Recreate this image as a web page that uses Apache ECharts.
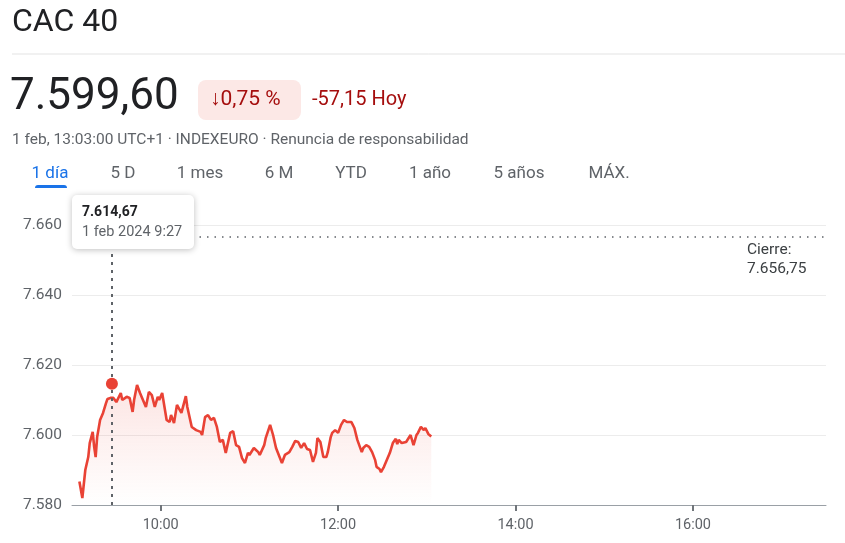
<!DOCTYPE html>
<html>
<head>
<meta charset="UTF-8">
<title>CAC 40</title>
<script src="https://cdn.jsdelivr.net/npm/echarts@6/dist/echarts.min.js"></script>
<style>
html, body { margin: 0; padding: 0; background: #fff; }
#main { width: 845px; height: 543px; }
</style>
</head>
<body>
<div id="main"></div>
<script>
// cotizaciones del 1 feb (hora local)
var times = ['09:05','09:07','09:09','09:11','09:12','09:14','09:15','09:16','09:17','09:19','09:21','09:23','09:24','09:26','09:28','09:30','09:33','09:34','09:37','09:39','09:41','09:42','09:44','09:46','09:48','09:50','09:52','09:54','09:56','09:58','09:59',
  '10:01','10:04','10:06','10:07','10:09','10:11','10:12','10:14','10:17','10:18','10:21','10:24','10:27','10:28','10:30','10:32','10:34','10:36','10:38','10:40','10:42','10:44','10:47','10:49','10:51','10:53','10:55','10:57','10:59',
  '11:00','11:03','11:06','11:07','11:10','11:11','11:14','11:16','11:18','11:19','11:22','11:24','11:27','11:29','11:31','11:33','11:35','11:37','11:39','11:41','11:43','11:45','11:46','11:48','11:50','11:52','11:53','11:55','11:56','11:58',
  '12:00','12:02','12:04','12:06','12:09','12:11','12:13','12:16','12:17','12:19','12:21','12:23','12:25','12:26','12:28','12:29','12:31','12:33','12:35','12:37','12:39','12:40','12:41','12:43','12:46','12:49','12:51','12:53','12:54','12:56','12:58','12:59',
  '13:00','13:01','13:03'];
var values = [7586.7,7582.0,7590.0,7593.7,7597.7,7600.9,7596.6,7593.7,7599.4,7604.3,7606.3,7609.1,7610.3,7610.6,7610.6,7609.4,7612.0,7610.0,7610.9,7610.6,7606.6,7610.0,7614.3,7612.0,7610.0,7608.0,7612.3,7611.4,7608.0,7610.9,7610.0,
  7612.0,7604.3,7603.7,7605.7,7603.4,7608.6,7609.1,7606.3,7611.1,7608.0,7602.3,7601.4,7600.9,7600.0,7605.1,7605.7,7604.3,7604.9,7602.3,7598.0,7598.6,7594.9,7600.6,7601.1,7597.1,7596.6,7593.4,7592.0,7594.9,
  7594.3,7596.3,7595.1,7594.3,7597.1,7599.1,7602.9,7600.0,7596.3,7596.6,7592.0,7594.3,7595.1,7596.6,7598.3,7598.0,7596.3,7597.7,7596.0,7595.7,7592.3,7594.9,7599.1,7598.0,7593.7,7593.7,7595.1,7599.4,7600.6,7601.4,
  7600.6,7602.9,7604.3,7603.7,7603.7,7602.0,7598.6,7595.1,7596.3,7597.1,7596.6,7595.1,7592.9,7590.9,7590.3,7589.4,7590.9,7592.9,7594.9,7597.7,7598.9,7597.4,7598.6,7597.7,7598.0,7600.0,7597.1,7600.0,7600.6,7602.3,7601.4,7602.0,
  7601.7,7600.3,7599.6];

var yTicks = [7580, 7600, 7620, 7640, 7660];
var xTickLabels = ['10:00', '12:00', '14:00', '16:00'];
var dayStart = '09:00', dayEnd = '17:30';

var prevClose = 7656.75;
var lastValue = 7599.60;
var hoverTime = '09:27';
var hoverValue = 7614.67;

var tabs = ['1 día', '5 D', '1 mes', '6 M', 'YTD', '1 año', '5 años', 'MÁX.'];
var tabCenters = [50, 123, 200, 279, 351, 430, 519, 609];

function toMin(t) {
  var p = t.split(':');
  return +p[0] * 60 + +p[1];
}
function hhmm(m) {
  var h = Math.floor(m / 60), mm = m % 60;
  return (h < 10 ? '0' : '') + h + ':' + (mm < 10 ? '0' : '') + mm;
}
// formato español: 7.599,60
function fmt(v, d) {
  var s = Math.abs(v).toFixed(d).split('.');
  var i = s[0].replace(/\B(?=(\d{3})+(?!\d))/g, '.');
  return (v < 0 ? '-' : '') + (d ? i + ',' + s[1] : i);
}

var change = lastValue - prevClose;
var pct = change / prevClose * 100;

var lineData = times.map(function (t, i) { return [toMin(t), values[i]]; });
var red = '#e94235';
var font = 'Roboto, "Noto Sans", sans-serif';

var graphics = [
  { type: 'text', left: 12, top: 7, style: { text: 'CAC 40', font: '32px ' + font, fill: '#202124' } },
  { type: 'line', shape: { x1: 12, y1: 54, x2: 845, y2: 54 }, style: { stroke: '#e3e3e3', lineWidth: 1 } },
  { type: 'text', left: 10, top: 76, style: { text: fmt(lastValue, 2), font: '44px ' + font, fill: '#202124' } },
  { type: 'rect', shape: { x: 198, y: 80, width: 103, height: 40, r: 8 }, style: { fill: '#fce8e6' } },
  { type: 'text', x: 210, y: 100, style: { text: '↓' + fmt(Math.abs(pct), 2) + ' %', font: '21px ' + font, fill: '#a50e0e', verticalAlign: 'middle' } },
  { type: 'text', x: 312, y: 100, style: { text: fmt(change, 2) + ' Hoy', font: '20px ' + font, fill: '#a50e0e', verticalAlign: 'middle' } },
  { type: 'text', x: 12, y: 140, style: { text: '1 feb, 13:03:00 UTC+1 · INDEXEURO · Renuncia de responsabilidad', font: '15.5px ' + font, fill: '#5f6368', verticalAlign: 'middle' } },
  { type: 'rect', shape: { x: 35, y: 185, width: 32, height: 3, r: [3, 3, 0, 0] }, style: { fill: '#1a73e8' } },
  { type: 'text', x: 747, y: 250, style: { text: 'Cierre:', font: '15.5px ' + font, fill: '#3c4043', verticalAlign: 'middle' } },
  { type: 'text', x: 747, y: 269, style: { text: fmt(prevClose, 2), font: '15.5px ' + font, fill: '#3c4043', verticalAlign: 'middle' } },
  // recuadro del punto señalado
  { type: 'rect', z: 100, shape: { x: 72, y: 195, width: 122, height: 54, r: 5 },
    style: { fill: '#fff', shadowBlur: 6, shadowColor: 'rgba(0,0,0,0.25)', shadowOffsetY: 1 } },
  { type: 'text', z: 101, x: 82, y: 212, style: { text: fmt(hoverValue, 2), font: 'bold 14px ' + font, fill: '#202124', verticalAlign: 'middle' } },
  { type: 'text', z: 101, x: 82, y: 232, style: { text: '1 feb 2024 ' + hoverTime.replace(/^0/, ''), font: '14.5px ' + font, fill: '#5f6368', verticalAlign: 'middle' } }
];
tabs.forEach(function (t, i) {
  graphics.push({ type: 'text', x: tabCenters[i], y: 174,
    style: { text: t, font: '17px ' + font, fill: i === 0 ? '#1a73e8' : '#5f6368', align: 'center', verticalAlign: 'middle' } });
});

var chart = echarts.init(document.getElementById('main'));
chart.setOption({
  animation: false,
  textStyle: { fontFamily: font },
  grid: { left: 72, right: 19, top: 225, bottom: 38 },
  xAxis: {
    type: 'value',
    min: toMin(dayStart),
    max: toMin(dayEnd),
    splitLine: { show: false },
    axisLine: { lineStyle: { color: '#9aa0a6', width: 1 } },
    axisTick: { customValues: xTickLabels.map(toMin), length: 6, lineStyle: { color: '#70757a', width: 2 } },
    axisLabel: { customValues: xTickLabels.map(toMin), formatter: function (v) { return hhmm(v); }, color: '#5f6368', fontSize: 14.5, margin: 13 }
  },
  yAxis: {
    type: 'value',
    min: yTicks[0],
    max: yTicks[yTicks.length - 1],
    interval: yTicks[1] - yTicks[0],
    axisLine: { show: false },
    axisTick: { show: false },
    splitLine: { lineStyle: { color: '#ececec', width: 1 } },
    axisLabel: { formatter: function (v) { return fmt(v, 0); }, color: '#5f6368', fontSize: 15.5, margin: 10 }
  },
  graphic: graphics,
  series: [
    {
      type: 'line',
      data: lineData,
      showSymbol: false,
      lineStyle: { color: red, width: 2.6 },
      areaStyle: {
        color: new echarts.graphic.LinearGradient(0, 0, 0, 1, [
          { offset: 0, color: 'rgba(233,66,53,0.2)' },
          { offset: 1, color: 'rgba(233,66,53,0.0)' }
        ])
      },
      markLine: {
        silent: true,
        symbol: ['none', 'none'],
        label: { show: false },
        data: [
          { yAxis: prevClose, lineStyle: { color: '#5f6368', width: 1.5, type: [1.5, 6] } },
          { xAxis: toMin(hoverTime), lineStyle: { color: '#5f6368', width: 2, type: [3, 5] } }
        ]
      }
    },
    {
      type: 'scatter',
      data: [[toMin(hoverTime), hoverValue]],
      symbolSize: 12,
      itemStyle: { color: red, opacity: 1 },
      z: 5
    }
  ]
});
</script>
</body>
</html>
